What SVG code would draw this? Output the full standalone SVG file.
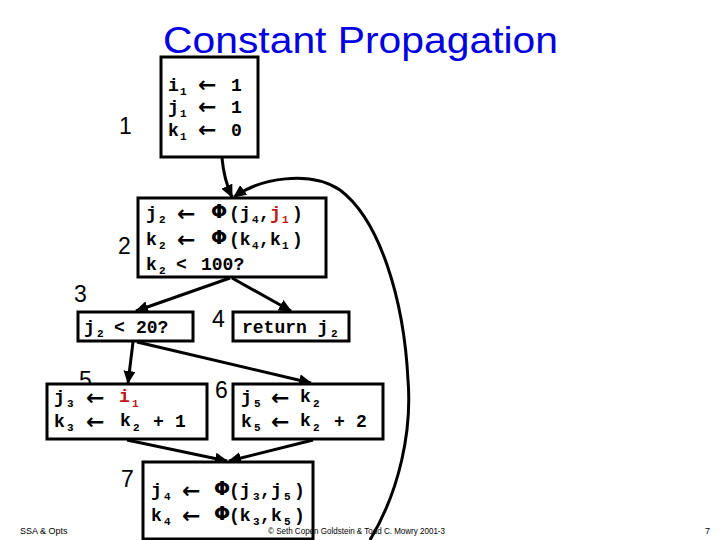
<svg xmlns="http://www.w3.org/2000/svg" width="720" height="540" viewBox="0 0 720 540">
<defs>
<marker id="ah" markerUnits="userSpaceOnUse" markerWidth="14" markerHeight="12" refX="12" refY="6" orient="auto">
<path d="M0,0 L13,6 L0,12 Z" fill="#000"/>
</marker>
<style>
.box{fill:#fff;stroke:#000;stroke-width:3}
.c{font-family:"Liberation Mono","DejaVu Sans Mono",monospace;font-size:18px;font-weight:bold;fill:#000}
.s{font-family:"Liberation Mono","DejaVu Sans Mono",monospace;font-size:11px;font-weight:bold}
.sym{font-family:"DejaVu Sans",sans-serif;font-size:19px;font-weight:bold}
.ar{font-family:"DejaVu Sans",sans-serif;font-size:22px;font-weight:bold;fill:#000}
.lab{font-family:"Liberation Sans","DejaVu Sans",sans-serif;font-size:23px;fill:#000}
.red{fill:#c01818}
.e{fill:none;stroke:#000;stroke-width:3;marker-end:url(#ah)}
.ft{font-family:"Liberation Sans",sans-serif;font-size:9px;fill:#000}
</style>
</defs>
<rect width="720" height="540" fill="#fff"/>
<text x="163" y="53" font-family="Liberation Sans, sans-serif" font-size="37" fill="#0000e0" textLength="395" lengthAdjust="spacingAndGlyphs">Constant Propagation</text>

<g id="connectors">
<path class="e" d="M222 158 Q224 180 232 197"/>
<path class="e" d="M370 540 C400 490 412 430 408 380 C404 300 380 220 340 190 C310 170 260 178 234 197"/>
<path class="e" d="M230 278 L136 311"/>
<path class="e" d="M232 278 L291 311"/>
<path class="e" d="M133 342 L128 383"/>
<path class="e" d="M137 342 L311 383"/>
<path class="e" d="M127 440 L227 461"/>
<path class="e" d="M313 440 L229 461"/>
</g>

<g id="n1">
<text class="lab" x="119" y="134">1</text>
<rect class="box" x="161" y="57" width="97" height="100"/>
<text class="c" x="168" y="91">i<tspan class="s" x="180" dy="4">1</tspan></text>
<text class="c" x="168" y="113">j<tspan class="s" x="180" dy="4">1</tspan></text>
<text class="c" x="168" y="136">k<tspan class="s" x="180" dy="4">1</tspan></text>
<text class="ar" x="198" y="92" font-size="20">←</text>
<text class="ar" x="198" y="114" font-size="20">←</text>
<text class="ar" x="198" y="137" font-size="20">←</text>
<text class="c" x="231" y="91">1</text>
<text class="c" x="231" y="113">1</text>
<text class="c" x="231" y="136">0</text>
</g>

<g id="n2">
<text class="lab" x="118" y="254" font-size="26">2</text>
<rect class="box" x="138" y="198" width="188" height="79"/>
<text class="c" x="146" y="219">j<tspan class="s" x="159" dy="4">2</tspan></text>
<text class="ar" x="177" y="221">←</text>
<text class="c" x="211" y="219"><tspan class="sym" dy="-1">Φ</tspan><tspan x="229" dy="1">(j</tspan><tspan class="s" x="252" dy="4">4</tspan><tspan x="259" dy="-4">,</tspan><tspan class="red" x="270">j</tspan><tspan class="s red" x="282" dy="4">1</tspan><tspan x="292" dy="-4">)</tspan></text>
<text class="c" x="146" y="245">k<tspan class="s" x="159" dy="4">2</tspan></text>
<text class="ar" x="177" y="247">←</text>
<text class="c" x="211" y="245"><tspan class="sym" dy="-1">Φ</tspan><tspan x="229" dy="1">(k</tspan><tspan class="s" x="252" dy="4">4</tspan><tspan x="259" dy="-4">,</tspan><tspan x="270">k</tspan><tspan class="s" x="282" dy="4">1</tspan><tspan x="292" dy="-4">)</tspan></text>
<text class="c" x="146" y="270">k<tspan class="s" x="159" dy="4">2</tspan><tspan x="176" dy="-4">&lt;</tspan><tspan x="201">100?</tspan></text>
</g>

<g id="n3">
<text class="lab" x="74" y="302">3</text>
<rect class="box" x="78" y="312" width="115" height="29"/>
<text class="c" x="84" y="333">j<tspan class="s" x="97" dy="4">2</tspan><tspan x="114" dy="-4">&lt;</tspan><tspan x="136">20?</tspan></text>
</g>

<g id="n4">
<text class="lab" x="212" y="327">4</text>
<rect class="box" x="233" y="312" width="116" height="29"/>
<text class="c" x="242" y="333">return j<tspan class="s" x="331" dy="4">2</tspan></text>
</g>

<g id="n5">
<text class="lab" x="79" y="388">5</text>
<rect class="box" x="47" y="384" width="160" height="55"/>
<text class="c" x="54" y="403">j<tspan class="s" x="67" dy="4">3</tspan></text>
<text class="ar" x="86" y="405">←</text>
<text class="c red" x="119" y="402">i<tspan class="s" x="132" dy="5">1</tspan></text>
<text class="c" x="54" y="427">k<tspan class="s" x="67" dy="4">3</tspan></text>
<text class="ar" x="86" y="429">←</text>
<text class="c" x="120" y="426">k<tspan class="s" x="133" dy="5">2</tspan><tspan x="153" dy="-4">+</tspan><tspan x="175">1</tspan></text>
</g>

<g id="n6">
<text class="lab" x="215" y="398">6</text>
<rect class="box" x="233" y="384" width="150" height="55"/>
<text class="c" x="241" y="403">j<tspan class="s" x="254" dy="4">5</tspan></text>
<text class="ar" x="271" y="405">←</text>
<text class="c" x="300" y="402">k<tspan class="s" x="313" dy="5">2</tspan></text>
<text class="c" x="241" y="427">k<tspan class="s" x="254" dy="4">5</tspan></text>
<text class="ar" x="271" y="429">←</text>
<text class="c" x="300" y="426">k<tspan class="s" x="313" dy="5">2</tspan><tspan x="334" dy="-4">+</tspan><tspan x="356">2</tspan></text>
</g>

<g id="n7">
<text class="lab" x="121" y="487">7</text>
<rect class="box" x="143" y="462" width="170" height="77"/>
<text class="c" x="151" y="496">j<tspan class="s" x="164" dy="4">4</tspan></text>
<text class="ar" x="182" y="498">←</text>
<text class="c" x="214" y="496"><tspan class="sym" dy="-1">Φ</tspan><tspan x="229" dy="1">(j</tspan><tspan class="s" x="253" dy="4">3</tspan><tspan x="260" dy="-4">,</tspan><tspan x="271">j</tspan><tspan class="s" x="284" dy="4">5</tspan><tspan x="294" dy="-4">)</tspan></text>
<text class="c" x="151" y="521">k<tspan class="s" x="164" dy="4">4</tspan></text>
<text class="ar" x="182" y="523">←</text>
<text class="c" x="214" y="521"><tspan class="sym" dy="-1">Φ</tspan><tspan x="229" dy="1">(k</tspan><tspan class="s" x="253" dy="4">3</tspan><tspan x="260" dy="-4">,</tspan><tspan x="271">k</tspan><tspan class="s" x="284" dy="4">5</tspan><tspan x="294" dy="-4">)</tspan></text>
</g>

<text class="ft" x="20" y="534">SSA &amp; Opts</text>
<text class="ft" x="268" y="534" textLength="177" lengthAdjust="spacingAndGlyphs">© Seth Copen Goldstein &amp; Todd C. Mowry 2001-3</text>
<text class="ft" x="705" y="534">7</text>
</svg>
